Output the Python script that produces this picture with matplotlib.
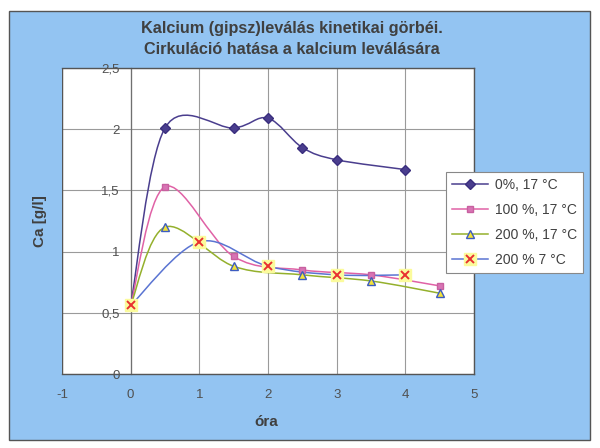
import matplotlib
matplotlib.use("Agg")
import matplotlib.pyplot as plt
from matplotlib.path import Path
from matplotlib.patches import PathPatch, Rectangle
from matplotlib.lines import Line2D
import numpy as np

plt.rcParams['font.family'] = ['Liberation Sans', 'DejaVu Sans']

title_lines = ["Kalcium (gipsz)leválás kinetikai görbéi.", "Cirkuláció hatása a kalcium leválására"]
x_label = "óra"
y_label = "Ca [g/l]"

s1_name = "0%, 17 °C"
s1_x = [0, 0.5, 1.5, 2, 2.5, 3, 4]
s1_y = [0.56, 2.01, 2.01, 2.09, 1.85, 1.75, 1.67]

s2_name = "100 %, 17 °C"
s2_x = [0, 0.5, 1.5, 2.5, 3.5, 4.5]
s2_y = [0.56, 1.53, 0.96, 0.85, 0.81, 0.72]

s3_name = "200 %, 17 °C"
s3_x = [0, 0.5, 1.5, 2.5, 3.5, 4.5]
s3_y = [0.56, 1.20, 0.88, 0.81, 0.76, 0.66]

s4_name = "200 % 7 °C"
s4_x = [0, 1, 2, 3, 4]
s4_y = [0.56, 1.08, 0.88, 0.81, 0.81]

x_ticks = [-1, 0, 1, 2, 3, 4, 5]
x_tick_labels = ["-1", "0", "1", "2", "3", "4", "5"]
y_ticks = [0, 0.5, 1, 1.5, 2, 2.5]
y_tick_labels = ["0", "0,5", "1", "1,5", "2", "2,5"]


def smooth_path(xs, ys):
    P = np.column_stack([xs, ys]).astype(float)
    n = len(P)
    verts = [P[0]]
    codes = [Path.MOVETO]
    for i in range(n - 1):
        p_prev = P[i - 1] if i > 0 else P[i]
        p_next2 = P[i + 2] if i + 2 < n else P[i + 1]
        c1 = P[i] + (P[i + 1] - p_prev) / 6.0
        c2 = P[i + 1] - (p_next2 - P[i]) / 6.0
        verts += [c1, c2, P[i + 1]]
        codes += [Path.CURVE4] * 3
    return Path(verts, codes)


fig = plt.figure(figsize=(6.0, 4.48), dpi=100)
fig.patch.set_facecolor('white')
bg = Rectangle((9 / 600, 8 / 448), 581 / 600, 429 / 448, transform=fig.transFigure,
               facecolor='#93c4f2', edgecolor='#555555', linewidth=1.0, zorder=-10)
fig.patches.append(bg)

ax = fig.add_axes([62 / 600, 74 / 448, 412 / 600, 306 / 448])
ax.set_facecolor('white')
ax.set_xlim(-1, 5)
ax.set_ylim(0, 2.5)

ax.set_xticks(x_ticks)
ax.set_xticklabels(x_tick_labels)
ax.set_yticks(y_ticks)
ax.set_yticklabels(y_tick_labels)
ax.grid(True, color='#9a9a9a', linewidth=0.8)
ax.set_axisbelow(True)
ax.tick_params(length=0, labelsize=9.5, labelcolor='#505050')
ax.tick_params(axis='x', pad=11)
ax.tick_params(axis='y', pad=8)

for side in ['top', 'right', 'bottom']:
    ax.spines[side].set_color('#555555')
    ax.spines[side].set_linewidth(1.0)
ax.spines['left'].set_position(('data', 0))
ax.spines['left'].set_color('#707070')
ax.spines['left'].set_linewidth(0.9)
frame_left = Line2D([0, 0], [0, 1], transform=ax.transAxes, color='#555555', linewidth=1.0)
ax.add_line(frame_left)

series = [
    (s1_x, s1_y, '#4a3e8e', dict(marker='D', markersize=5.5, markerfacecolor='#4a3e8e', markeredgecolor='#3a2e7e')),
    (s2_x, s2_y, '#e062a6', dict(marker='s', markersize=5, markerfacecolor='#d874b4', markeredgecolor='#c860a0')),
    (s3_x, s3_y, '#94b02c', dict(marker='^', markersize=5.5, markerfacecolor='#f2e23a', markeredgecolor='#3d5cc0')),
    (s4_x, s4_y, '#5a74d2', dict(marker='s', markersize=9, markerfacecolor='#fbfb9c', markeredgecolor='#fbfb9c')),
]

handles = []
for xs, ys, col, mk in series:
    pp = PathPatch(smooth_path(xs, ys), facecolor='none', edgecolor=col, linewidth=1.1, zorder=3)
    ax.add_patch(pp)
    ax.plot(xs, ys, linestyle='none', zorder=4, **mk)
    handles.append(Line2D([], [], color=col, linewidth=1.1, **mk))

ax.plot(s4_x, s4_y, linestyle='none', marker='x', markersize=5.5, color='#e83030',
        markeredgewidth=1.4, zorder=5)
x_handle = Line2D([], [], linestyle='none', marker='x', markersize=5.5, color='#e83030', markeredgewidth=1.4)

leg_handles = [handles[0], handles[1], handles[2], (handles[3], x_handle)]
leg = fig.legend(leg_handles, [s1_name, s2_name, s3_name, s4_name],
                 loc='upper left', bbox_to_anchor=(446 / 600, 1 - 172 / 448),
                 borderaxespad=0, fancybox=False, framealpha=1, edgecolor='#888888',
                 fontsize=10, handlelength=2.6, labelspacing=0.78, borderpad=0.45,
                 handletextpad=0.45)
leg.get_frame().set_linewidth(0.8)
for t in leg.get_texts():
    t.set_color('#404040')

fig.text(292 / 600, 1 - 28 / 448, title_lines[0], ha='center', va='center', fontsize=11.7,
         fontweight='bold', color='#404040')
fig.text(292 / 600, 1 - 50 / 448, title_lines[1], ha='center', va='center', fontsize=11.7,
         fontweight='bold', color='#404040')
fig.text(40 / 600, 1 - 221 / 448, y_label, ha='center', va='center', rotation=90,
         fontsize=11, fontweight='bold', color='#404040')
fig.text(266 / 600, 1 - 422 / 448, x_label, ha='center', va='center', fontsize=11,
         fontweight='bold', color='#404040')

fig.savefig('out.png', dpi=100)
